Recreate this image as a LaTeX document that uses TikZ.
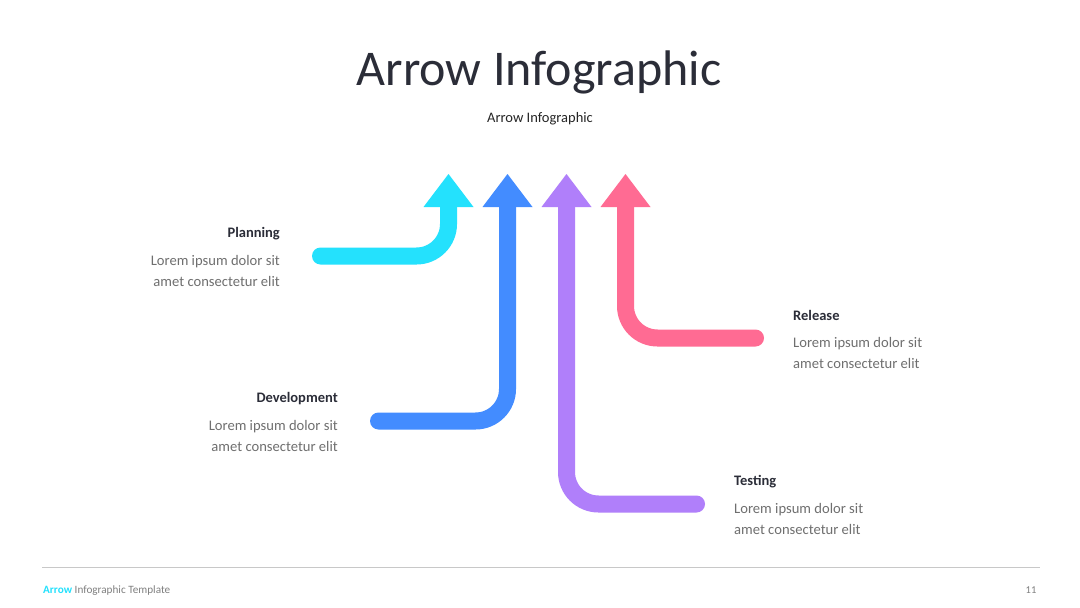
\documentclass[tikz,border=0pt]{standalone}
\usepackage{fontspec}
\setmainfont{Carlito}

\definecolor{cyanline}{HTML}{24E1FD}
\definecolor{blueline}{HTML}{438CFF}
\definecolor{purpleline}{HTML}{B07FFA}
\definecolor{pinkline}{HTML}{FF6B93}
\definecolor{titlegray}{HTML}{2B2D38}
\definecolor{bodygray}{HTML}{6F6F6F}
\definecolor{rulegray}{HTML}{C8C8C8}

\tikzset{
  flow/.style={line width=17pt, line cap=round, rounded corners=32pt},
  head/.style={inner sep=0pt, font=\fontsize{14.5}{21}\selectfont\bfseries, text=titlegray},
  body/.style={inner sep=0pt, font=\fontsize{14.6}{21}\selectfont, text=bodygray},
}

\begin{document}
\begin{tikzpicture}[x=1pt, y=-1pt]

        \useasboundingbox[fill=white] (0, 0) rectangle (1080, 608);

        % ---------------------------------------------------
        % 1. Title
        % ---------------------------------------------------
        \node[inner sep=0pt, anchor=base, font=\fontsize{50}{50}\selectfont, text=titlegray] (title) at (539, 85) {Arrow Infographic};
        \node[inner sep=0pt, anchor=base, font=\fontsize{14.5}{14.5}\selectfont, text=black!85] (subtitle) at (540, 122) {Arrow Infographic};

        % ---------------------------------------------------
        % 2. Arrows (shafts, then heads)
        % ---------------------------------------------------

        % Planning (cyan), comes in from the left
        \draw[flow, cyanline] (320.5, 256) -- (448.5, 256) -- (448.5, 205);
        \fill[cyanline] (423.5, 207) -- (448.5, 174) -- (473.5, 207) -- cycle;

        % Development (blue), comes in from the left
        \draw[flow, blueline] (378.5, 421) -- (507.5, 421) -- (507.5, 205);
        \fill[blueline] (482.5, 207) -- (507.5, 174) -- (532.5, 207) -- cycle;

        % Testing (purple), comes in from the right
        \draw[flow, purpleline] (696.5, 504) -- (566.5, 504) -- (566.5, 205);
        \fill[purpleline] (541.5, 207) -- (566.5, 174) -- (591.5, 207) -- cycle;

        % Release (pink), comes in from the right
        \draw[flow, pinkline] (755.5, 338) -- (625.5, 338) -- (625.5, 205);
        \fill[pinkline] (600.5, 207) -- (625.5, 174) -- (650.5, 207) -- cycle;

        % ---------------------------------------------------
        % 3. Labels (body anchored on its last line)
        % ---------------------------------------------------
        \node[head, anchor=base east] (planning) at (280, 237) {Planning};
        \node[body, anchor=base east, align=right] (planningtext) at (280, 286) {Lorem ipsum dolor sit\\amet consectetur elit};

        \node[head, anchor=base east] (development) at (338, 402) {Development};
        \node[body, anchor=base east, align=right] (developmenttext) at (338, 451) {Lorem ipsum dolor sit\\amet consectetur elit};

        \node[head, anchor=base west] (release) at (793, 320) {Release};
        \node[body, anchor=base west, align=left] (releasetext) at (793, 368) {Lorem ipsum dolor sit\\amet consectetur elit};

        \node[head, anchor=base west] (testing) at (734, 485) {Testing};
        \node[body, anchor=base west, align=left] (testingtext) at (734, 534) {Lorem ipsum dolor sit\\amet consectetur elit};

        % ---------------------------------------------------
        % 4. Footer
        % ---------------------------------------------------
        \draw[rulegray, line width=1.5pt] (42, 567.5) -- (1040, 567.5);
        \node[inner sep=0pt, anchor=base west, font=\fontsize{11.2}{11.2}\selectfont, text=gray] (footer) at (43, 593) {\textcolor{cyanline}{\bfseries Arrow} Infographic Template};
        \node[inner sep=0pt, anchor=base, font=\fontsize{10.5}{10.5}\selectfont, text=gray] (pagenum) at (1031, 593) {11};

    \end{tikzpicture}
\end{document}
